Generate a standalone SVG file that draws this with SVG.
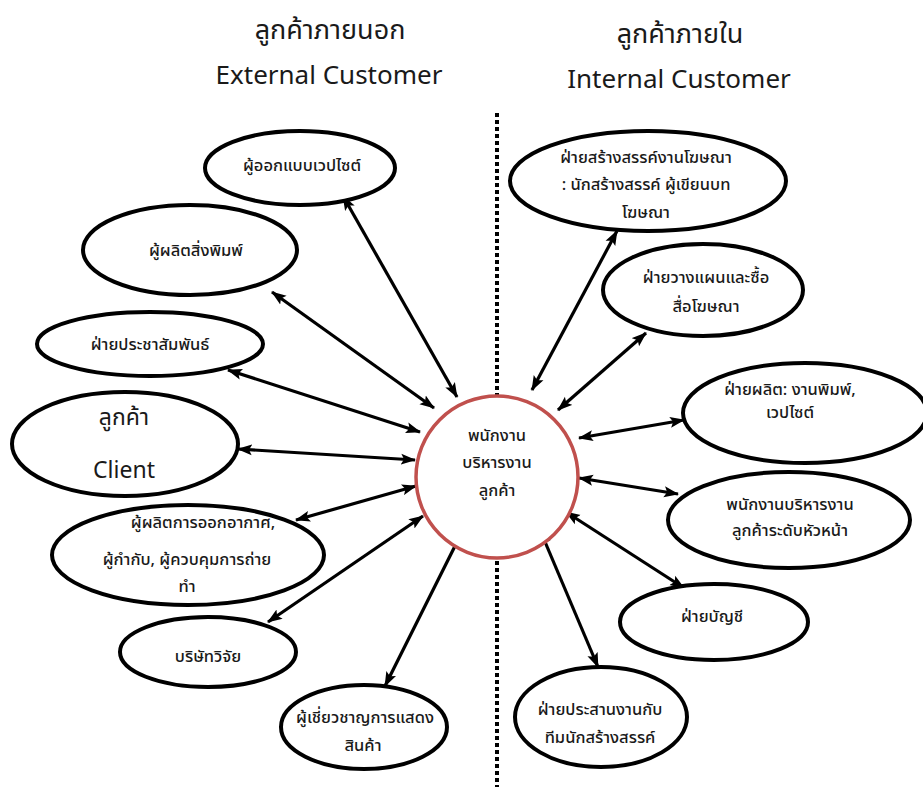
<svg xmlns="http://www.w3.org/2000/svg" width="923" height="787" viewBox="0 0 923 787">
  <defs>
    <style>
      text { font-family: "Noto Sans Thai", "Open Sans", "Noto Sans", sans-serif; fill: #1a1a1a; text-anchor: middle; }
      .hdr-th { font-size: 27px; }
      .hdr-en { font-size: 26px; }
      .lbl { font-size: 16.5px; font-weight: 500; }
      .big { font-size: 23px; }
      .node { fill: #ffffff; stroke: #000000; stroke-width: 4; }
      .hub { fill: #ffffff; stroke: #c0504d; stroke-width: 3.5; }
      .link { stroke: #000000; stroke-width: 3.2; fill: none; marker-start: url(#head); marker-end: url(#head); }
      .divider { stroke: #000000; stroke-width: 4; stroke-dasharray: 4 3; }
    </style>
    <marker id="head" markerUnits="userSpaceOnUse" markerWidth="15" markerHeight="12" refX="14" refY="6" orient="auto-start-reverse">
      <path d="M0,0.5 L15,6 L0,11.5 L3,6 Z" fill="#000000"/>
    </marker>
  </defs>

  <rect width="923" height="787" fill="#ffffff"/>

  <!-- column headings -->
  <g id="headings">
    <text class="hdr-th" x="330" y="39">ลูกค้าภายนอก</text>
    <text class="hdr-en" x="329" y="84">External Customer</text>
    <text class="hdr-th" x="680" y="43">ลูกค้าภายใน</text>
    <text class="hdr-en" x="679" y="88">Internal Customer</text>
  </g>

  <!-- dotted divider between external and internal customers -->
  <line class="divider" x1="497" y1="113" x2="497" y2="787"/>

  <!-- connectors -->
  <g id="connectors">
    <line class="link" x1="343" y1="196" x2="457" y2="397"/>
    <line class="link" x1="272" y1="292" x2="434" y2="408"/>
    <line class="link" x1="228" y1="370" x2="420" y2="432"/>
    <line class="link" x1="238" y1="449" x2="415" y2="460"/>
    <line class="link" x1="296" y1="520" x2="416" y2="486"/>
    <line class="link" x1="268" y1="622" x2="423" y2="516"/>
    <line class="link" x1="385" y1="686" x2="465" y2="526"/>
    <line class="link" x1="617" y1="231" x2="532" y2="390"/>
    <line class="link" x1="646" y1="333" x2="558" y2="410"/>
    <line class="link" x1="684" y1="420" x2="579" y2="438"/>
    <line class="link" x1="678" y1="494" x2="579" y2="478"/>
    <line class="link" x1="684" y1="588" x2="566" y2="512"/>
    <line class="link" x1="598" y1="667" x2="540" y2="530"/>
  </g>

  <!-- hub -->
  <g id="hub">
    <circle class="hub" cx="497" cy="477" r="81"/>
    <text class="lbl" x="497" y="441">พนักงาน</text>
    <text class="lbl" x="497" y="468">บริหารงาน</text>
    <text class="lbl" x="497" y="496">ลูกค้า</text>
  </g>

  <!-- external customers -->
  <g id="web-designer">
    <ellipse class="node" cx="300" cy="168" rx="95" ry="37"/>
    <text class="lbl" x="302" y="171">ผู้ออกแบบเวปไซต์</text>
  </g>
  <g id="printer">
    <ellipse class="node" cx="190" cy="250" rx="107" ry="45"/>
    <text class="lbl" x="196" y="256">ผู้ผลิตสิ่งพิมพ์</text>
  </g>
  <g id="public-relations">
    <ellipse class="node" cx="150" cy="344" rx="113" ry="32"/>
    <text class="lbl" x="150" y="350">ฝ่ายประชาสัมพันธ์</text>
  </g>
  <g id="client">
    <ellipse class="node" cx="125" cy="444" rx="113" ry="52"/>
    <text class="big" x="124" y="425">ลูกค้า</text>
    <text class="big" x="124" y="478">Client</text>
  </g>
  <g id="broadcast-producer">
    <ellipse class="node" cx="188" cy="555" rx="136" ry="50"/>
    <text class="lbl" x="203" y="528">ผู้ผลิตการออกอากาศ,</text>
    <text class="lbl" x="187" y="565">ผู้กำกับ, ผู้ควบคุมการถ่าย</text>
    <text class="lbl" x="187" y="592">ทำ</text>
  </g>
  <g id="research-firm">
    <ellipse class="node" cx="208" cy="652" rx="88" ry="35"/>
    <text class="lbl" x="208" y="662">บริษัทวิจัย</text>
  </g>
  <g id="exhibition-expert">
    <ellipse class="node" cx="364" cy="727" rx="83" ry="42"/>
    <text class="lbl" x="365" y="723">ผู้เชี่ยวชาญการแสดง</text>
    <text class="lbl" x="363" y="751">สินค้า</text>
  </g>

  <!-- internal customers -->
  <g id="creative">
    <ellipse class="node" cx="648" cy="181" rx="138" ry="50"/>
    <text class="lbl" x="646" y="163">ฝ่ายสร้างสรรค์งานโฆษณา</text>
    <text class="lbl" x="646" y="190">: นักสร้างสรรค์ ผู้เขียนบท</text>
    <text class="lbl" x="646" y="218">โฆษณา</text>
  </g>
  <g id="media-planning">
    <ellipse class="node" cx="703" cy="290" rx="100" ry="46"/>
    <text class="lbl" x="706" y="283">ฝ่ายวางแผนและซื้อ</text>
    <text class="lbl" x="706" y="312">สื่อโฆษณา</text>
  </g>
  <g id="production">
    <ellipse class="node" cx="805" cy="413" rx="122" ry="50"/>
    <text class="lbl" x="790" y="395">ฝ่ายผลิต: งานพิมพ์,</text>
    <text class="lbl" x="790" y="418">เวปไซต์</text>
  </g>
  <g id="senior-account">
    <ellipse class="node" cx="789" cy="520" rx="121" ry="48"/>
    <text class="lbl" x="790" y="510">พนักงานบริหารงาน</text>
    <text class="lbl" x="790" y="536">ลูกค้าระดับหัวหน้า</text>
  </g>
  <g id="accounting">
    <ellipse class="node" cx="714" cy="622" rx="94" ry="38"/>
    <text class="lbl" x="712" y="622">ฝ่ายบัญชี</text>
  </g>
  <g id="creative-liaison">
    <ellipse class="node" cx="601" cy="717" rx="86" ry="50"/>
    <text class="lbl" x="600" y="715">ฝ่ายประสานงานกับ</text>
    <text class="lbl" x="600" y="743">ทีมนักสร้างสรรค์</text>
  </g>
</svg>
